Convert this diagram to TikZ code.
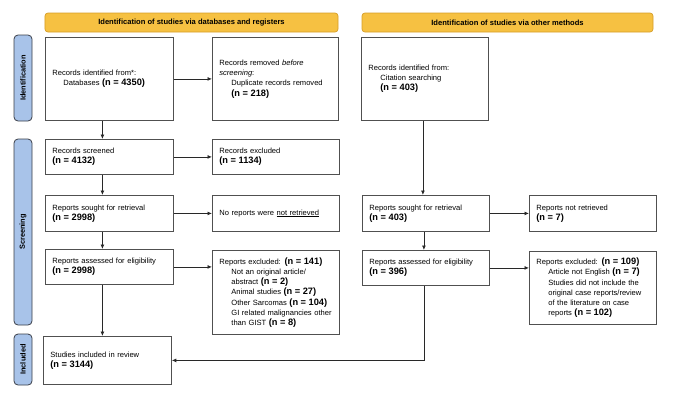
\documentclass[tikz,border=0pt]{standalone}
\usepackage{fontspec}
\setmainfont{Liberation Sans}
\usetikzlibrary{arrows.meta}
\definecolor{hdrf}{RGB}{246,193,66}
\definecolor{hdrb}{RGB}{214,158,40}
\definecolor{sidef}{RGB}{168,195,233}
\definecolor{sideb}{RGB}{58,62,72}
\definecolor{boxc}{RGB}{80,80,80}
\definecolor{linec}{RGB}{40,40,40}
\newcommand\bxfont{\fontsize{7.6}{10.3}\selectfont}
\newcommand\nn[1]{{\fontsize{9.3}{10.3}\selectfont\bfseries #1}}
\newcommand\ind[1]{\hspace*{12bp}\mbox{#1}}
\tikzset{
  box/.style={draw=boxc, line width=0.8bp, inner xsep=7bp, inner ysep=0bp,
    align=left, anchor=north west, font=\bxfont},
  hdr/.style={draw=hdrb, fill=hdrf, line width=0.7bp, rounded corners=3bp,
    font=\fontsize{7.6}{9}\selectfont\bfseries, inner sep=0bp},
  side/.style={draw=sideb, fill=sidef, line width=0.8bp, rounded corners=4bp,
    rotate=90, font=\fontsize{7.4}{9}\selectfont\bfseries, inner sep=0bp},
  arr/.style={draw=linec, line width=0.8bp, -{Latex[length=4.5bp,width=4bp]}},
}
\begin{document}
\begin{tikzpicture}[x=1bp,y=-1bp]
\useasboundingbox (0,0) rectangle (680,393);
% headers
\node[hdr, minimum width=293bp, minimum height=19bp] (h1) at (191.5,22.5)
  {Identification of studies via databases and registers};
\node[hdr, minimum width=291bp, minimum height=19bp] (h2) at (507.5,22.5)
  {Identification of studies via other methods};
% side bars
\node[side, minimum width=86bp, minimum height=18bp] (s1) at (23,78) {Identification};
\node[side, minimum width=186bp, minimum height=18bp] (s2) at (23,232) {Screening};
\node[side, minimum width=51bp, minimum height=18bp] (s3) at (23,359.5) {Included};
% left column
\node[box, minimum width=128bp, minimum height=83bp, text width=114bp] (id1) at (45,37)
  {Records identified from*:\\ \hspace*{11bp}Databases \nn{(n = 4350)}};
\node[box, minimum width=126bp, minimum height=83bp, text width=112bp] (rem) at (212,37)
  {Records removed \textit{before}\\ \textit{screening}:\\ \ind{Duplicate records removed}\\ \ind{\nn{(n = 218)}}};
\node[box, minimum width=128bp, minimum height=35bp, text width=114bp] (scr) at (45,139)
  {Records screened\\ \nn{(n = 4132)}};
\node[box, minimum width=127bp, minimum height=35bp, text width=113bp] (exc) at (212,139)
  {Records excluded\\ \nn{(n = 1134)}};
\node[box, minimum width=128bp, minimum height=36bp, text width=114bp] (rs1) at (45,195)
  {Reports sought for retrieval\\ \nn{(n = 2998)}};
\node[box, minimum width=127bp, minimum height=36bp, text width=113bp] (nr1) at (212,195)
  {No reports were \underline{not retrieved}};
\node[box, minimum width=128bp, minimum height=35bp, text width=114bp] (ra1) at (45,249)
  {Reports assessed for eligibility\\ \nn{(n = 2998)}};
\node[box, minimum width=127bp, minimum height=84bp, text width=113bp] (ex1) at (212,250)
  {Reports excluded: \nn{(n = 141)}\\ \ind{Not an original article/}\\ \ind{abstract \nn{(n = 2)}}\\
   \ind{Animal studies \nn{(n = 27)}}\\ \ind{Other Sarcomas \nn{(n = 104)}}\\
   \ind{GI related malignancies other}\\ \ind{than GIST \nn{(n = 8)}}};
\node[box, minimum width=128bp, minimum height=48bp, text width=114bp] (inc) at (43,336)
  {Studies included in review\\ \nn{(n = 3144)}};
% right column
\node[box, minimum width=127bp, minimum height=83bp, text width=113bp] (cit) at (361,37)
  {Records identified from:\\ \ind{Citation searching}\\ \ind{\nn{(n = 403)}}};
\node[box, minimum width=127bp, minimum height=36bp, text width=113bp] (rs2) at (362,195)
  {Reports sought for retrieval\\ \nn{(n = 403)}};
\node[box, minimum width=127bp, minimum height=36bp, text width=113bp] (nr2) at (529,195)
  {Reports not retrieved\\ \nn{(n = 7)}};
\node[box, minimum width=127bp, minimum height=35bp, text width=113bp] (ra2) at (362,250)
  {Reports assessed for eligibility\\ \nn{(n = 396)}};
\node[box, minimum width=127bp, minimum height=73bp, text width=113bp] (ex2) at (529,251)
  {Reports excluded: \nn{(n = 109)}\\ \ind{Article not English \nn{(n = 7)}}\\
   \ind{Studies did not include the}\\ \ind{original case reports/review}\\
   \ind{of the literature on case}\\ \ind{reports \nn{(n = 102)}}};
% horizontal arrows
\draw[arr] (id1.east) -- (id1.east -| rem.west);
\draw[arr] (scr.east) -- (scr.east -| exc.west);
\draw[arr] (rs1.east) -- (rs1.east -| nr1.west);
\draw[arr] (ra1.east) -- (ra1.east -| ex1.west);
\draw[arr] (rs2.east) -- (rs2.east -| nr2.west);
\draw[arr] (ra2.east) -- (ra2.east -| ex2.west);
% vertical arrows left
\draw[arr] ([xshift=-7bp]id1.south) -- ([xshift=-7bp]id1.south |- scr.north);
\draw[arr] ([xshift=-7bp]scr.south) -- ([xshift=-7bp]scr.south |- rs1.north);
\draw[arr] ([xshift=-7bp]rs1.south) -- ([xshift=-7bp]rs1.south |- ra1.north);
\draw[arr] ([xshift=-7bp]ra1.south) -- ([xshift=-7bp]ra1.south |- inc.north);
% vertical arrows right
\draw[arr] ([xshift=-2bp]cit.south) -- ([xshift=-2bp]cit.south |- rs2.north);
\draw[arr] ([xshift=-2bp]rs2.south) -- ([xshift=-2bp]rs2.south |- ra2.north);
\draw[arr] ([xshift=-2bp]ra2.south) |- (inc.east);
\end{tikzpicture}
\end{document}
